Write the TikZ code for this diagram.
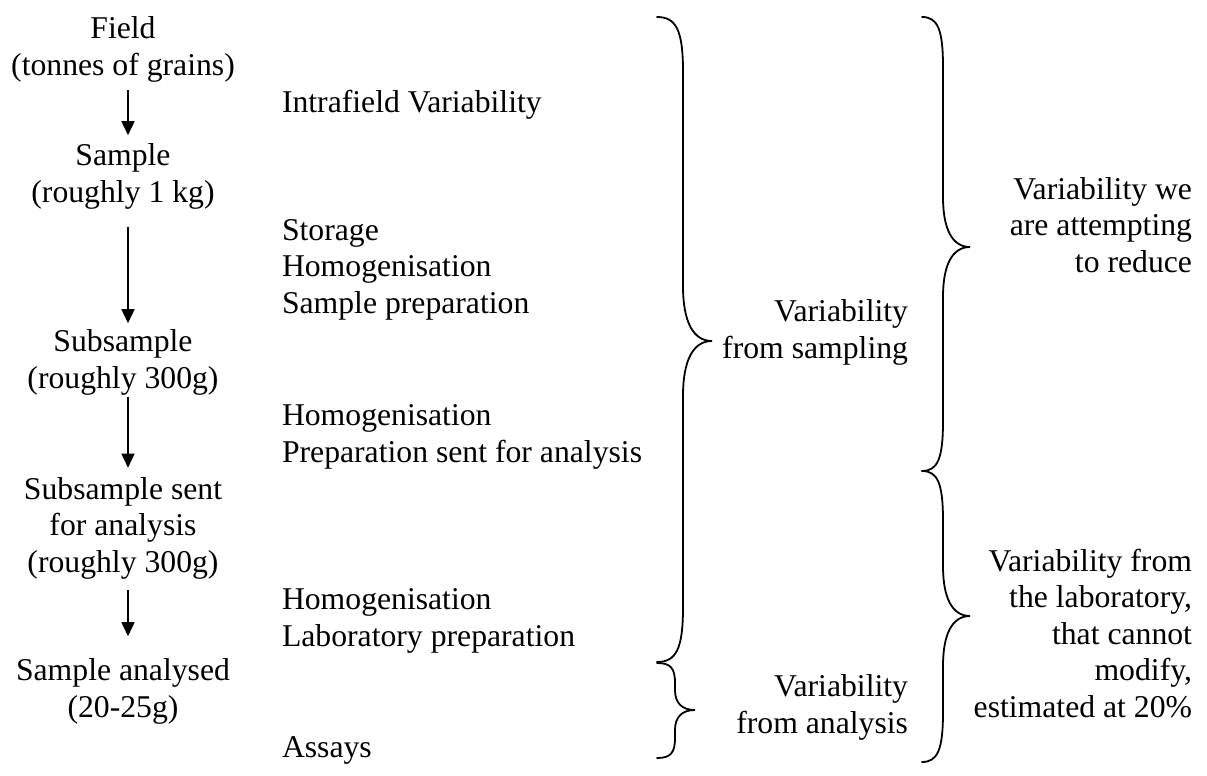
\documentclass[tikz,border=0pt]{standalone}
\usepackage{fontspec}
\setmainfont{Liberation Serif}
\usetikzlibrary{arrows.meta}
% #1 end x, #2 stem x, #3 tip x, #4 top y, #5 tip y, #6 bottom y, #7 curl length
\newcommand\curlybrace[7]{%
  \draw[bracestyle] (#1,#4) .. controls ({#1+0.75*(#2-#1)},#4) and (#2,{#4+0.25*#7}) .. (#2,{#4+#7})
    -- (#2,{#5-#7}) .. controls (#2,{#5-0.35*#7}) and ({#2+0.35*(#3-#2)},#5) .. (#3,#5)
    .. controls ({#2+0.35*(#3-#2)},#5) and (#2,{#5+0.35*#7}) .. (#2,{#5+#7})
    -- (#2,{#6-#7}) .. controls (#2,{#6-0.25*#7}) and ({#1+0.75*(#2-#1)},#6) .. (#1,#6);}
\begin{document}
\begin{tikzpicture}[x=1pt,y=-1pt,
  every node/.style={font=\fontsize{31.7}{36.5}\selectfont, inner sep=0pt, outer sep=0pt},
  stage/.style={align=center, anchor=base},
  proc/.style={align=left, anchor=base west},
  note/.style={align=right, anchor=base east},
  flow/.style={-{Triangle[length=14pt,width=13pt]}, line width=1.6pt},
  bracestyle/.style={line width=1.8pt, line cap=round}]
\useasboundingbox (0,0) rectangle (1207,776);

% left column (anchor = baseline of the last line)
\node[stage] (field) at (123,75) {Field\\(tonnes of grains)};
\node[stage] (sample) at (123,202) {Sample\\(roughly 1 kg)};
\node[stage] (sub) at (123,388) {Subsample\\(roughly 300g)};
\node[stage] (sent) at (123,572) {Subsample sent\\for analysis\\(roughly 300g)};
\node[stage] (anal) at (123,717) {Sample analysed\\(20-25g)};

\draw[flow, shorten <=8pt, shorten >=8.3pt] ([xshift=5pt]field.south) -- ([xshift=5pt]sample.north);
\draw[flow, shorten <=18pt, shorten >=6.3pt] ([xshift=5pt]sample.south) -- ([xshift=5pt]sub.north);
\draw[flow, shorten <=2pt, shorten >=9.3pt] ([xshift=5pt]sub.south) -- ([xshift=5pt]sent.north);
\draw[flow, shorten <=11pt, shorten >=22.3pt] ([xshift=5pt]sent.south) -- ([xshift=5pt]anal.north);

% middle column
\node[proc] (intra) at (282,112) {Intrafield Variability};
\node[proc] (stor) at (282,313) {Storage\\Homogenisation\\Sample preparation};
\node[proc] (prep) at (282,462) {Homogenisation\\Preparation sent for analysis};
\node[proc] (lab) at (282,646) {Homogenisation\\Laboratory preparation};
\node[proc] (assay) at (282,757) {Assays};

% braces
\curlybrace{657}{683}{712}{17}{341}{662}{55}
\curlybrace{657}{675}{695}{663}{710}{758}{20}
\curlybrace{922}{943}{970}{17}{247}{471}{50}
\curlybrace{922}{943}{970}{471}{616}{762}{50}

% brace labels
\node[note] (vsamp) at (908,358) {Variability\\from sampling};
\node[note] (vanal) at (908,733) {Variability\\from analysis};
\node[note] (vred) at (1192,272) {Variability we\\are attempting\\to reduce};
\node[note] (vlab) at (1192,717) {Variability from\\the laboratory,\\that cannot\\modify,\\estimated at 20\%};
\end{tikzpicture}
\end{document}
